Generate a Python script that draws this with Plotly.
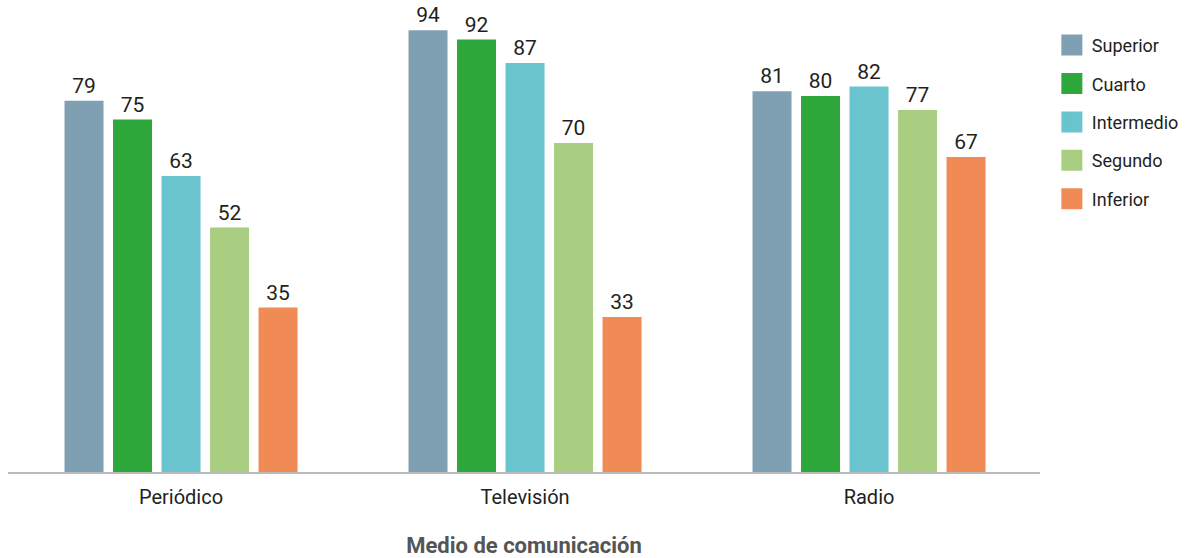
import plotly.graph_objects as go

categories = ["Periódico", "Televisión", "Radio"]
series_names = ["Superior", "Cuarto", "Intermedio", "Segundo", "Inferior"]
superior = [79, 94, 81]
cuarto = [75, 92, 80]
intermedio = [63, 87, 82]
segundo = [52, 70, 77]
inferior = [35, 33, 67]
values = [superior, cuarto, intermedio, segundo, inferior]
colors = ["#7F9FB3", "#2EA83A", "#6AC4CD", "#A9CE82", "#F08B56"]

FONT = "Roboto, Liberation Sans Narrow, sans-serif"

fig = go.Figure()
for name, vals, col in zip(series_names, values, colors):
    fig.add_trace(go.Bar(
        x=categories, y=vals, name=name, marker_color=col,
        marker_line_width=0,
        text=[str(v) for v in vals], textposition="outside",
        textfont=dict(size=21, color="#231F20", family=FONT),
        cliponaxis=False, showlegend=False,
    ))
for name, col in zip(series_names, colors):
    fig.add_trace(go.Scatter(
        x=[None], y=[None], mode="markers", name=name, legendgroup=name,
        marker=dict(symbol="square", size=16, color=col, line=dict(color=col, width=5)),
        showlegend=True,
    ))

fig.update_layout(
    width=1189, height=558,
    margin=dict(l=8, r=149, t=2, b=86),
    paper_bgcolor="white", plot_bgcolor="white",
    barmode="group", bargap=0.295, bargroupgap=0.196,
    font=dict(family=FONT, color="#231F20"),
    legend=dict(x=1.0115, xanchor="left", y=0.947, yanchor="top",
                font=dict(size=18, color="#231F20", family=FONT),
                traceorder="grouped", tracegroupgap=12,
                bgcolor="rgba(0,0,0,0)", itemsizing="trace"),
    xaxis=dict(showline=True, linecolor="#BBBBBB", linewidth=2,
               ticks="", tickfont=dict(size=20, color="#231F20", family=FONT),
               ticklabelstandoff=6,
               range=[-0.503, 2.497],
               title=dict(text="<b>Medio de comunicación</b>", standoff=31,
                          font=dict(size=22, color="#555555", family=FONT))),
    yaxis=dict(visible=False, range=[0, 100], showgrid=False, zeroline=False),
)

fig.write_html("out.html", config={"displayModeBar": False},
               post_script="document.body.style.margin='0';")
